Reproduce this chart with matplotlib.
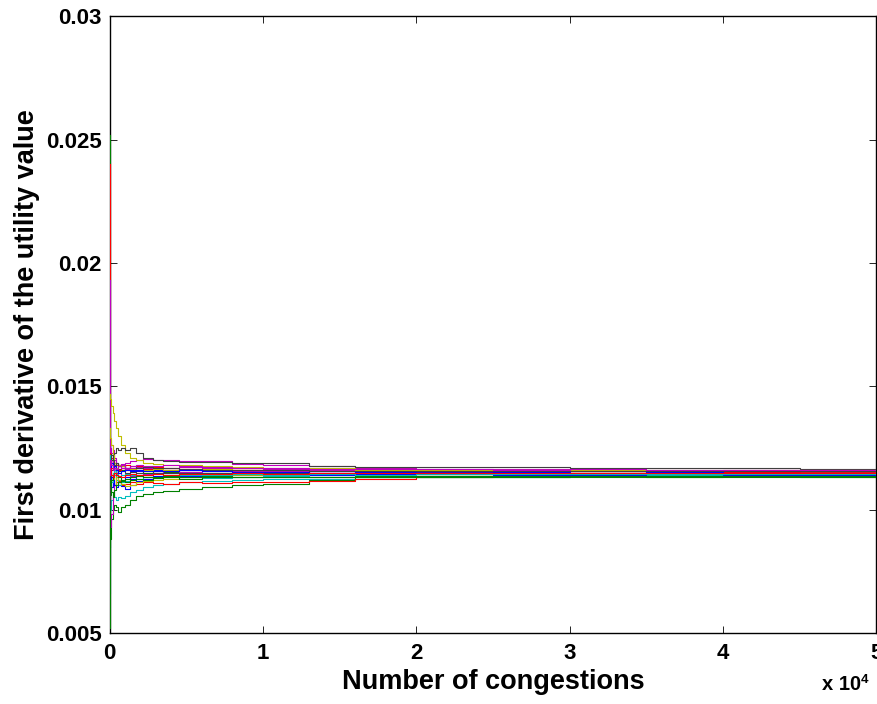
import matplotlib
matplotlib.use("Agg")
import matplotlib.pyplot as plt
from matplotlib.ticker import MultipleLocator, FuncFormatter

# number of congestions at which each trace is sampled
congestions = [0, 40, 100, 180, 280, 400, 550, 750, 1000, 1300, 1700, 2200, 2800,
               3500, 4500, 6000, 8000, 10000, 13000, 16000, 20000, 25000, 30000,
               35000, 40000, 45000, 50000]

# first derivative of the utility value, in units of 1e-3
blue_1 = [12.6, 12.3, 12.0, 11.8, 11.6, 11.4, 11.2, 10.95, 10.85, 11.0, 11.15, 11.25, 11.3,
          11.35, 11.4, 11.45, 11.5, 11.48, 11.55, 11.5, 11.52, 11.5, 11.48, 11.5, 11.5, 11.52, 11.5]
blue_2 = [11.8, 11.3, 10.9, 11.2, 11.5, 11.7, 11.8, 11.75, 11.65, 11.6, 11.55, 11.6, 11.62,
          11.58, 11.6, 11.55, 11.5, 11.52, 11.55, 11.5, 11.48, 11.47, 11.46, 11.47, 11.46, 11.45, 11.46]
blue_3 = [10.6, 11.0, 11.3, 11.2, 11.0, 10.9, 11.1, 11.2, 11.3, 11.25, 11.35, 11.3, 11.35,
          11.4, 11.38, 11.4, 11.45, 11.42, 11.4, 11.44, 11.43, 11.42, 11.42, 11.43, 11.42, 11.42, 11.42]
blue_4 = [12.0, 11.6, 11.9, 11.7, 11.75, 11.6, 11.5, 11.55, 11.6, 11.58, 11.6, 11.55, 11.58,
          11.56, 11.6, 11.55, 11.52, 11.54, 11.5, 11.52, 11.5, 11.51, 11.5, 11.51, 11.5, 11.5, 11.5]
green_1 = [25.2, 12.5, 12.0, 11.8, 11.6, 11.5, 11.55, 11.6, 11.7, 11.65, 11.6, 11.5, 11.55,
           11.52, 11.5, 11.5, 11.45, 11.47, 11.45, 11.5, 11.45, 11.45, 11.42, 11.42, 11.43, 11.42, 11.4]
green_2 = [5.2, 8.8, 9.6, 10.0, 10.2, 10.1, 9.9, 10.1, 10.2, 10.4, 10.55, 10.65, 10.7,
           10.75, 10.85, 10.92, 10.98, 11.05, 11.2, 11.3, 11.32, 11.33, 11.32, 11.33, 11.33, 11.33, 11.35]
green_3 = [8.5, 10.6, 11.2, 11.5, 11.6, 11.4, 11.3, 11.2, 11.25, 11.3, 11.35, 11.3, 11.32,
           11.35, 11.3, 11.35, 11.32, 11.3, 11.32, 11.35, 11.34, 11.36, 11.36, 11.37, 11.36, 11.37, 11.36]
green_4 = [11.2, 11.0, 10.7, 10.5, 10.8, 11.0, 11.1, 11.15, 11.1, 11.2, 11.25, 11.2, 11.28,
           11.3, 11.25, 11.3, 11.32, 11.3, 11.33, 11.3, 11.32, 11.33, 11.34, 11.33, 11.34, 11.33, 11.34]
red_1 = [24.0, 12.0, 11.7, 11.6, 11.9, 11.8, 11.75, 11.7, 11.6, 11.65, 11.7, 11.65, 11.6,
         11.62, 11.65, 11.6, 11.6, 11.58, 11.55, 11.57, 11.55, 11.56, 11.55, 11.54, 11.55, 11.54, 11.55]
red_2 = [11.0, 11.4, 11.3, 11.2, 11.0, 11.1, 11.15, 11.0, 11.05, 11.1, 11.05, 11.1, 11.08,
         11.05, 11.1, 11.08, 11.12, 11.1, 11.15, 11.25, 11.3, 11.35, 11.38, 11.37, 11.38, 11.39, 11.38]
red_3 = [12.3, 11.8, 12.1, 11.9, 11.7, 11.5, 11.6, 11.7, 11.8, 11.7, 11.75, 11.7, 11.72,
         11.68, 11.65, 11.7, 11.6, 11.62, 11.6, 11.58, 11.57, 11.55, 11.56, 11.55, 11.54, 11.55, 11.54]
red_4 = [11.5, 11.7, 11.4, 11.3, 11.5, 11.4, 11.35, 11.3, 11.4, 11.45, 11.4, 11.42, 11.45,
         11.4, 11.44, 11.45, 11.48, 11.46, 11.48, 11.5, 11.48, 11.49, 11.5, 11.49, 11.5, 11.49, 11.5]
cyan_1 = [6.6, 10.0, 10.4, 10.6, 10.5, 10.4, 10.5, 10.45, 10.55, 10.7, 10.8, 10.9, 11.0,
          11.05, 11.1, 11.15, 11.2, 11.22, 11.25, 11.3, 11.32, 11.33, 11.34, 11.35, 11.36, 11.37, 11.38]
cyan_2 = [11.9, 11.4, 11.1, 11.3, 11.4, 11.2, 11.0, 11.1, 11.15, 11.2, 11.25, 11.3, 11.28,
          11.3, 11.32, 11.28, 11.32, 11.35, 11.3, 11.3, 11.34, 11.36, 11.38, 11.4, 11.45, 11.5, 11.62]
cyan_3 = [12.2, 11.6, 11.4, 11.5, 11.6, 11.45, 11.35, 11.4, 11.45, 11.42, 11.4, 11.42, 11.45,
          11.42, 11.4, 11.42, 11.44, 11.42, 11.43, 11.42, 11.44, 11.43, 11.44, 11.43, 11.44, 11.43, 11.43]
magenta_1 = [19.3, 12.8, 12.6, 12.4, 12.1, 11.9, 11.8, 11.85, 11.9, 11.95, 12.0, 12.05, 12.02,
             12.0, 11.98, 11.95, 11.85, 11.8, 11.75, 11.7, 11.65, 11.63, 11.62, 11.6, 11.6, 11.6, 11.6]
magenta_2 = [13.0, 9.3, 9.8, 10.5, 11.0, 11.3, 11.6, 11.4, 11.3, 11.35, 11.4, 11.45, 11.5,
             11.55, 11.52, 11.6, 11.55, 11.58, 11.6, 11.62, 11.6, 11.58, 11.6, 11.58, 11.6, 11.59, 11.58]
magenta_3 = [12.9, 12.5, 12.3, 11.9, 12.0, 11.9, 11.8, 11.7, 11.65, 11.7, 11.72, 11.7, 11.68,
             11.7, 11.72, 11.7, 11.67, 11.65, 11.6, 11.62, 11.58, 11.57, 11.56, 11.55, 11.56, 11.55, 11.56]
magenta_4 = [11.4, 12.0, 11.8, 11.6, 11.7, 11.65, 11.75, 11.8, 11.7, 11.75, 11.8, 11.78, 11.75,
             11.8, 11.76, 11.72, 11.7, 11.68, 11.65, 11.66, 11.64, 11.62, 11.63, 11.62, 11.61, 11.62, 11.61]
yellow_1 = [14.7, 14.5, 14.2, 13.9, 13.6, 13.3, 13.0, 12.6, 12.3, 12.1, 12.0, 11.9, 11.85,
            11.8, 11.82, 11.75, 11.72, 11.7, 11.68, 11.66, 11.62, 11.6, 11.57, 11.55, 11.56, 11.55, 11.55]
yellow_2 = [12.0, 11.5, 11.2, 11.4, 11.0, 11.3, 11.2, 11.05, 10.95, 11.0, 11.1, 11.15, 11.2,
            11.25, 11.3, 11.35, 11.4, 11.45, 11.45, 11.48, 11.5, 11.48, 11.47, 11.48, 11.47, 11.47, 11.48]
yellow_3 = [13.3, 12.9, 12.6, 12.2, 11.9, 11.7, 11.8, 11.75, 11.7, 11.65, 11.6, 11.62, 11.65,
            11.6, 11.62, 11.65, 11.62, 11.6, 11.64, 11.62, 11.6, 11.58, 11.6, 11.62, 11.6, 11.6, 11.6]
gray_1 = [7.5, 11.6, 11.8, 12.0, 12.3, 12.5, 12.4, 12.5, 12.4, 12.5, 12.3, 12.1, 12.0,
          11.95, 11.92, 11.93, 11.9, 11.88, 11.75, 11.74, 11.73, 11.74, 11.7, 11.69, 11.68, 11.65, 11.62]
gray_2 = [11.5, 11.3, 11.6, 11.8, 11.7, 11.6, 11.65, 11.55, 11.5, 11.52, 11.5, 11.55, 11.5,
          11.48, 11.5, 11.48, 11.45, 11.47, 11.45, 11.44, 11.45, 11.44, 11.45, 11.44, 11.43, 11.44, 11.43]
gray_3 = [10.2, 11.9, 12.2, 12.0, 11.8, 11.9, 11.75, 11.8, 11.7, 11.75, 11.7, 11.72, 11.68,
          11.7, 11.65, 11.62, 11.6, 11.62, 11.58, 11.57, 11.56, 11.57, 11.56, 11.55, 11.56, 11.55, 11.56]

BLUE = (0, 0, 1)
GREEN = (0, 0.5, 0)
RED = (1, 0, 0)
CYAN = (0, 0.75, 0.75)
MAGENTA = (0.75, 0, 0.75)
YELLOW = (0.75, 0.75, 0)
GRAY = (0.25, 0.25, 0.25)

# old matlab colour order, cycled
traces = [
	(blue_1, BLUE), (green_1, GREEN), (red_1, RED), (cyan_1, CYAN),
	(magenta_1, MAGENTA), (yellow_1, YELLOW), (gray_1, GRAY),
	(blue_2, BLUE), (green_2, GREEN), (red_2, RED), (cyan_2, CYAN),
	(magenta_2, MAGENTA), (yellow_2, YELLOW), (gray_2, GRAY),
	(blue_3, BLUE), (green_3, GREEN), (red_3, RED), (cyan_3, CYAN),
	(magenta_3, MAGENTA), (yellow_3, YELLOW), (gray_3, GRAY),
	(blue_4, BLUE), (green_4, GREEN), (red_4, RED), (magenta_4, MAGENTA),
]

plt.rcParams['font.family'] = ['Liberation Sans', 'DejaVu Sans']
plt.rcParams['font.weight'] = 'bold'

fig = plt.figure(figsize=(8.78, 7.04), dpi=100)
ax = fig.add_axes([0.125, 0.101, 0.873, 0.876])

for values, colour in traces:
	ax.plot(congestions, [v * 1e-3 for v in values], color=colour,
		linewidth=0.8, drawstyle='steps-post', zorder=3)

ax.set_xlim(0, 50000)
ax.set_ylim(0.005, 0.03)
ax.xaxis.set_major_locator(MultipleLocator(10000))
ax.yaxis.set_major_locator(MultipleLocator(0.005))
ax.xaxis.set_major_formatter(FuncFormatter(lambda v, p: f"{v / 1e4:g}"))
ax.yaxis.set_major_formatter(FuncFormatter(lambda v, p: f"{v:g}"))
ax.tick_params(which='both', direction='in', length=5, width=0.6, labelsize=16,
	top=True, right=True, pad=7, colors='black')
ax.tick_params(axis='y', pad=6)
for spine in ax.spines.values():
	spine.set_linewidth(1.0)

ax.set_xlabel("Number of congestions", fontsize=19.5, fontweight='bold', labelpad=4)
ax.set_ylabel("First derivative of the utility value", fontsize=19.5,
	fontweight='bold', labelpad=4)
# scale factor of the x axis, written the matlab way
fig.text(0.936, 0.02, "x 10", fontsize=14.5, fontweight='bold', ha='left', va='baseline')
fig.text(0.980, 0.026, "4", fontsize=9.5, fontweight='bold', ha='left', va='bottom')

plt.savefig("out.png", dpi=100)
